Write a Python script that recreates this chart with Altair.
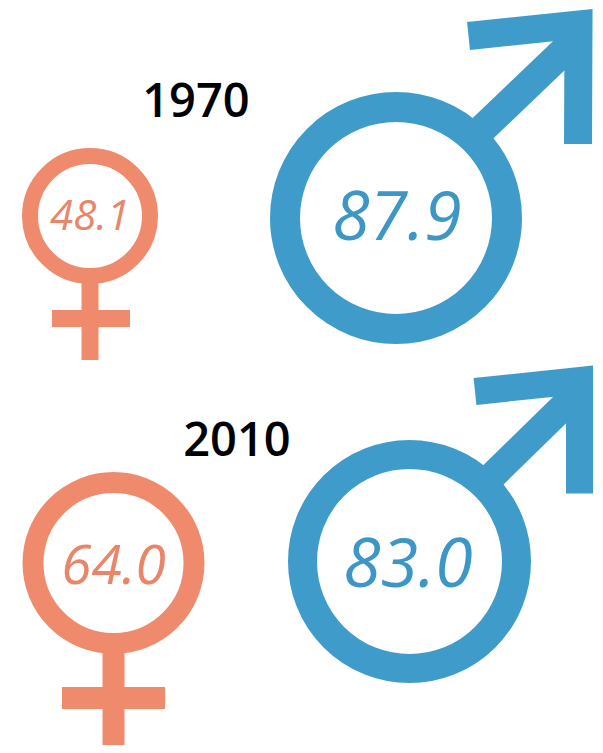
import altair as alt
import pandas as pd

# Values shown in the picture
years = ["1970", "2010"]
female_values = ["48.1", "64.0"]
male_values = ["87.9", "83.0"]

# Layout of each symbol in the image's own units
year_x = [196, 237]
year_y = [103, 441.5]
female_cx = [90, 113.5]
female_cy = [216, 563]
female_text_y = [217, 567]
male_cx = [396, 409.5]
male_cy = [218, 561.5]
male_text_x = [397, 408]
male_text_y = [220, 567]

ring_size_f = [120, 161]
ring_stroke_f = [16, 21]
ring_size_m = [222, 214]
ring_stroke_m = [30, 29]

f_stem_bottom = [360, 753]
f_bar_left = [52, 62]
f_bar_right = [130, 165]
f_bar_y = [318.5, 698]
f_width = [17, 22]

m_arrow_x = [[468.5, 578.5, 578], [475, 579.5, 579.5]]
m_arrow_y = [[36, 24.5, 144], [391.5, 380.5, 493.5]]
m_shaft_x = [[477, 570], [484, 572]]
m_shaft_y = [[134, 45], [484, 398]]
m_width = [28, 27]

BLUE = "#3F9CCA"
ORANGE = "#EF8B6C"
BLUE_TEXT = "#3C97C6"
ORANGE_TEXT = "#E9866A"

x_enc = alt.X("x:Q", scale=alt.Scale(domain=[8, 595], nice=False, zero=False), axis=None)
y_enc = alt.Y("y:Q", scale=alt.Scale(domain=[745, 8], nice=False, zero=False), axis=None)


def path(xs, ys, color, width):
    df = pd.DataFrame({"x": xs, "y": ys, "o": list(range(len(xs)))})
    return alt.Chart(df).mark_line(
        color=color, strokeWidth=width, strokeCap="butt", strokeJoin="miter", clip=False
    ).encode(x=x_enc, y=y_enc, order="o:Q")


def ring(cx, cy, d, w, color):
    df = pd.DataFrame({"x": [cx], "y": [cy]})
    return alt.Chart(df).mark_point(
        shape="circle", filled=False, stroke=color, strokeWidth=w, size=d * d, opacity=1
    ).encode(x=x_enc, y=y_enc)


def label(x, y, text, color, size, italic=True, weight=500):
    df = pd.DataFrame({"x": [x], "y": [y], "t": [text]})
    return alt.Chart(df).mark_text(
        font="Open Sans", fontSize=size, fontStyle="italic" if italic else "normal",
        fontWeight=weight, color=color, align="center", baseline="middle"
    ).encode(x=x_enc, y=y_enc, text="t:N")


layers = []
for i in range(2):
    w = f_width[i]
    stem_top = female_cy[i] + ring_size_f[i] / 2
    layers.append(path([female_cx[i], female_cx[i]], [stem_top, f_stem_bottom[i]], ORANGE, w))
    layers.append(path([f_bar_left[i], f_bar_right[i]], [f_bar_y[i], f_bar_y[i]], ORANGE, w))
    layers.append(ring(female_cx[i], female_cy[i], ring_size_f[i], ring_stroke_f[i], ORANGE))
    layers.append(path(m_shaft_x[i], m_shaft_y[i], BLUE, m_width[i] + 1))
    layers.append(path(m_arrow_x[i], m_arrow_y[i], BLUE, m_width[i]))
    layers.append(ring(male_cx[i], male_cy[i], ring_size_m[i], ring_stroke_m[i], BLUE))
    layers.append(label(year_x[i], year_y[i], years[i], "#000000", 47, italic=False, weight=600))
    layers.append(label(female_cx[i], female_text_y[i], female_values[i], ORANGE_TEXT, [42, 55][i]))
    layers.append(label(male_text_x[i], male_text_y[i], male_values[i], BLUE_TEXT, 68))

chart = alt.layer(*layers).properties(
    width=587, height=737, padding=0, background="#ffffff",
    autosize=alt.AutoSizeParams(type="none")
).configure_view(stroke=None)

chart.save("out.html", embed_options={"renderer": "svg", "actions": False})
